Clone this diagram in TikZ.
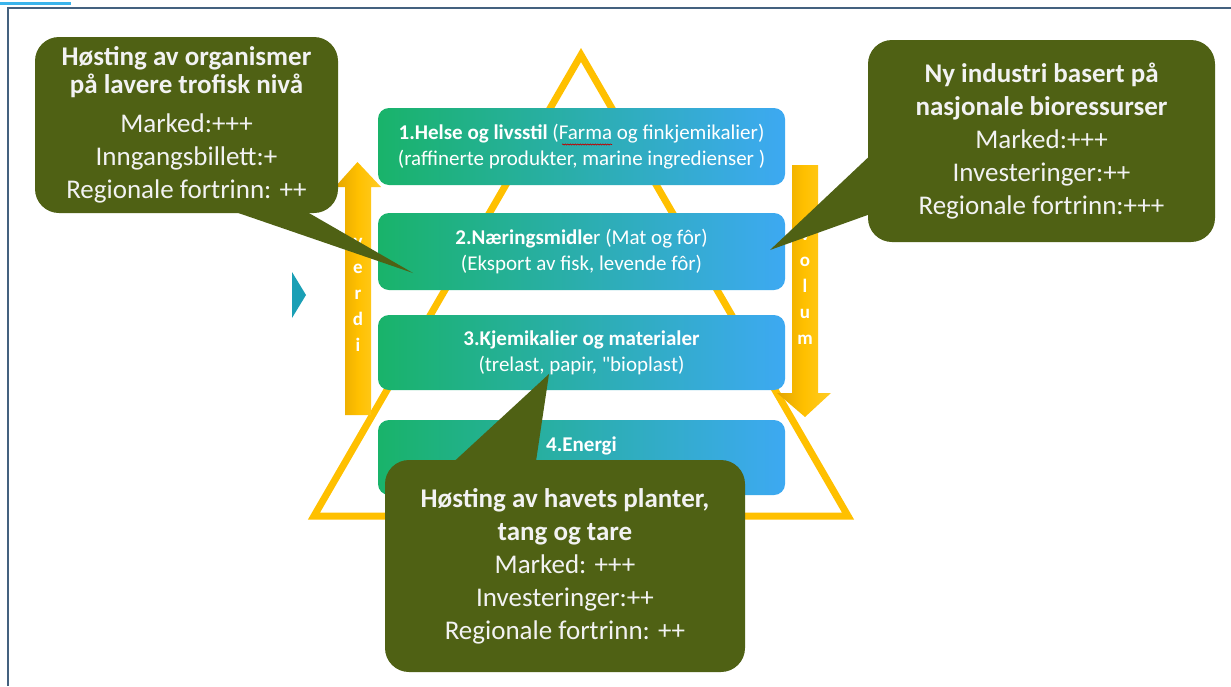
\documentclass[tikz,border=0pt]{standalone}
\usepackage{fontspec}
\setmainfont{Carlito}
\usetikzlibrary{decorations.pathmorphing}
\definecolor{gold}{HTML}{FFC000}
\definecolor{golddark}{HTML}{E3A500}
\definecolor{goldlight}{HTML}{FFCC26}
\definecolor{olive}{HTML}{4F6114}
\definecolor{boxgreen}{HTML}{19B36A}
\definecolor{boxblue}{HTML}{3DA9F2}
\definecolor{tealmark}{HTML}{1A9FB5}
\definecolor{framecol}{HTML}{44617F}
\definecolor{cyanline}{HTML}{3AB4EC}
\begin{document}
\begin{tikzpicture}[x=1pt,y=-1pt,
  tierbox/.style={rounded corners=11pt, left color=boxgreen, right color=boxblue, minimum width=407pt, minimum height=77pt, inner sep=0pt, text=white, align=center, font=\fontsize{21}{26}\selectfont},
  tierlabel/.style={inner sep=0pt, text=white, align=center, font=\fontsize{21}{26}\selectfont},
  callout/.style={fill=olive, rounded corners=24pt, text=white!95!black, align=center, inner sep=0pt, font=\fontsize{27}{33}\selectfont},
  pointer/.style={fill=olive},
  arrowbody/.style={left color=golddark, right color=goldlight, middle color=gold},
  arrowtext/.style={text=white, align=center, font=\bfseries\fontsize{19}{26}\selectfont, inner sep=0pt},
  spellwave/.style={red!75!black, line width=0.6pt, decorate, decoration={snake, amplitude=0.6pt, segment length=2.5pt}},
]
\useasboundingbox (0,0) rectangle (1231,686);
\fill[white] (0,0) rectangle (1231,686);
% frame
\draw[framecol, line width=1.5pt] (8,686) -- (8,8) -- (1231,8);
\draw[cyanline, line width=3pt] (0,3) -- (71,3);
% teal marker
\fill[tealmark] (292,272) -- (306,295) -- (292,318) -- cycle;
% triangle
\coordinate (apex) at (581,55);
\coordinate (bl) at (314,516);
\coordinate (br) at (848,516);
\draw[gold, line width=7pt, line join=miter] (apex) -- (bl) -- (br) -- cycle;
% tiers
\node[tierbox] (t1) at (581.5,146.5) {\textbf{1.Helse og livsstil} (Farma og finkjemikalier)\\(raffinerte produkter, marine ingredienser )};
\coordinate (wave1) at (562,144.5);
\coordinate (wave2) at (612,144.5);
\draw[spellwave] (wave1) -- (wave2);
\node[tierbox] (t2) at (581.5,251.5) {\textbf{2.Næringsmidle}r (Mat og fôr)\\(Eksport av fisk, levende fôr)};
\node[tierbox, minimum height=75pt] (t3) at (581.5,352.5) {\textbf{3.Kjemikalier og materialer}\\(trelast, papir, \textquotedbl bioplast)};
\node[tierbox, minimum height=75pt] (t4) at (581.5,457.5) {};
\node[tierlabel] (t4text) at (581.5,446) {\textbf{4.Energi}};
% arrows
\path[arrowbody] (345,415) -- (345,187) -- (335,187) -- (357.5,162) -- (381,187) -- (371,187) -- (371,415) -- cycle;
\node[arrowtext] (verdi) at (358,295) {v\\e\\r\\d\\i};
\path[arrowbody] (792,165) -- (818,165) -- (818,393) -- (831,393) -- (805,417) -- (777,393) -- (792,393) -- cycle;
\node[arrowtext] (volum) at (805,288) {v\\o\\l\\u\\m};
% callout 1
\node[callout, minimum width=303pt, minimum height=176pt] (c1) at (186.5,125) {\textbf{Høsting av organismer}\\[-5pt]\textbf{på lavere trofisk nivå}\\[6pt]Marked:+++\\Inngangsbillett:+\\Regionale fortrinn: ++};
\coordinate (c1tip) at (413,273);
\coordinate (c1a) at (215,205);
\coordinate (c1b) at (295,205);
\fill[pointer] (c1a) -- (c1tip) -- (c1b) -- cycle;
% callout 2
\node[callout, minimum width=347pt, minimum height=202pt] (c2) at (1041.5,141) {\textbf{Ny industri basert på}\\\textbf{nasjonale bioressurser}\\Marked:+++\\Investeringer:++\\Regionale fortrinn:+++};
\coordinate (c2tip) at (770,250);
\coordinate (c2a) at (876,150);
\coordinate (c2b) at (876,212);
\fill[pointer] (c2a) -- (c2tip) -- (c2b) -- cycle;
% callout 3
\node[callout, minimum width=360pt, minimum height=212pt] (c3) at (565,566) {\textbf{Høsting av havets planter,}\\\textbf{tang og tare}\\Marked: +++\\Investeringer:++\\Regionale fortrinn: ++};
\coordinate (c3tip) at (549,374);
\coordinate (c3a) at (447,468);
\coordinate (c3b) at (535,468);
\fill[pointer] (c3a) -- (c3tip) -- (c3b) -- cycle;
\end{tikzpicture}
\end{document}
